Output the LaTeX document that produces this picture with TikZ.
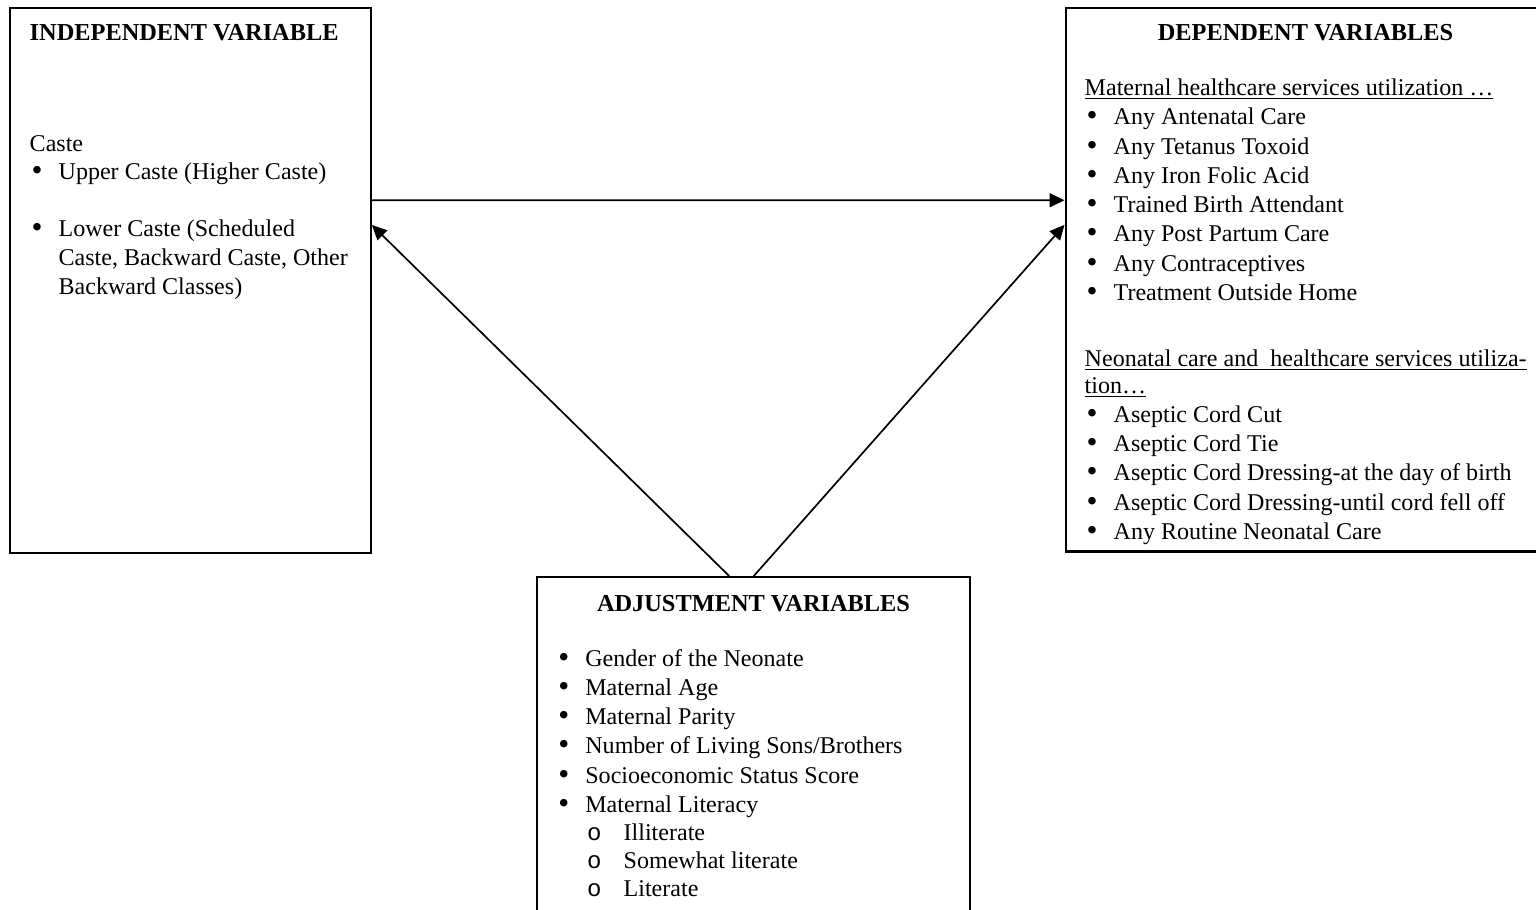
\documentclass[tikz,border=0pt]{standalone}
\usepackage{fontspec}
\setmainfont{Liberation Serif}
\setmonofont{Liberation Mono}
\usepackage{tikz}
\usetikzlibrary{arrows.meta,calc,fit,positioning}
\newcommand{\bul}{\hspace*{0.9pt}\makebox[12.7pt][l]{\raisebox{-0.5pt}{\scalebox{1.3}{\textbullet}}}}
\newcommand{\subbul}{\hspace*{14.4pt}\makebox[17.2pt][l]{\ttfamily o}}
\newcommand{\hang}{\hspace*{13.6pt}}

\begin{document}
\begin{tikzpicture}[x=0.47pt,y=-0.47pt,>={Triangle[length=7pt,width=6.5pt]},
	varbox/.style={draw,line width=1.1pt,inner sep=0pt},
	txt/.style={anchor=base west,inner sep=0pt,align=flush left,font=\fontsize{11.3pt}{13.75pt}\selectfont},
	head/.style={inner sep=0pt,font=\fontsize{11.45pt}{13.75pt}\selectfont\bfseries},
	flow/.style={->,line width=0.8pt}]
\useasboundingbox (0,0) rectangle (1536,910);
\clip (0,0) rectangle (1536,910);

\node[varbox,fit={(10,8.3) (370.7,553.3)}] (indep) {};
\node[varbox,fit={(1065.7,8.3) (1560,551.5)}] (dep) {};
\node[varbox,fit={(537.3,577.3) (970,940)}] (adj) {};

\node[head,anchor=base west] (indepHead) at (29.3,40.3) {INDEPENDENT VARIABLE};
\node[txt,text width=165pt] (caste) at (29.3,151.5) {Caste\\[-0.8pt]
	\bul Upper Caste (Higher Caste)\\[13.2pt]
	\bul Lower Caste (Scheduled\\
	\hang Caste, Backward Caste, Other\\
	\hang Backward Classes)};

\node[head,anchor=base] (depHead) at (1305.5,40.7) {DEPENDENT VARIABLES};
\node[txt,text width=215pt] (maternal) at (1084.3,95.5) {\underline{Maternal healthcare services utilization …}\\
	\bul Any Antenatal Care\\
	\bul Any Tetanus Toxoid\\
	\bul Any Iron Folic Acid\\
	\bul Trained Birth Attendant\\
	\bul Any Post Partum Care\\
	\bul Any Contraceptives\\
	\bul Treatment Outside Home};
\node[txt,text width=215pt] (neonatal) at (1084.3,366.2) {\underline{Neonatal care and~ healthcare services utiliza-}\\[-1.1pt]
	\underline{tion…}\\
	\bul Aseptic Cord Cut\\
	\bul Aseptic Cord Tie\\
	\bul Aseptic Cord Dressing-at the day of birth\\
	\bul Aseptic Cord Dressing-until cord fell off\\
	\bul Any Routine Neonatal Care};

\node[head,anchor=base] (adjHead) at (753.5,611) {ADJUSTMENT VARIABLES};
\node[txt,text width=194pt] (covars) at (556,666) {\bul Gender of the Neonate\\
	\bul Maternal Age\\
	\bul Maternal Parity\\
	\bul Number of Living Sons/Brothers\\
	\bul Socioeconomic Status Score\\
	\bul Maternal Literacy\\[-0.6pt]
	\subbul Illiterate\\[-0.6pt]
	\subbul Somewhat literate\\[-0.6pt]
	\subbul Literate};

\draw[flow] ($(indep.north east)!0.353!(indep.south east)$) -- ($(dep.north west)!0.354!(dep.south west)$);
\draw[flow] ($(adj.north west)!0.444!(adj.north east)$) -- ($(indep.north east)!0.398!(indep.south east)$);
\draw[flow] (adj.north) -- ($(dep.north west)!0.399!(dep.south west)$);
\end{tikzpicture}
\end{document}
